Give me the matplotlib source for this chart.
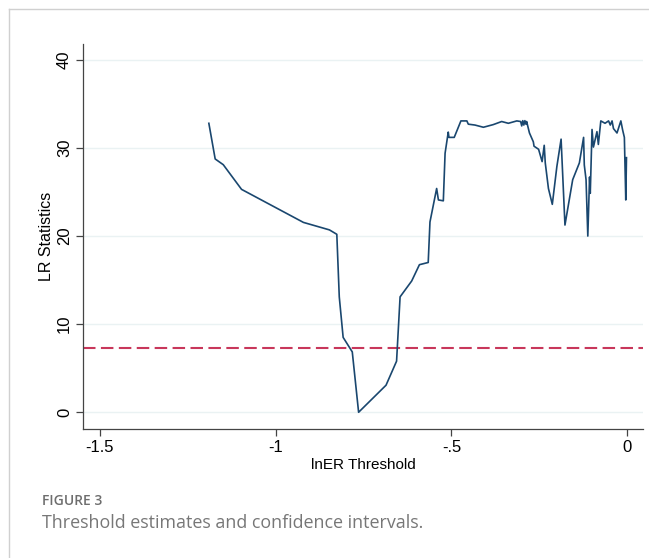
import matplotlib
matplotlib.use("Agg")
import matplotlib.pyplot as plt
from matplotlib.lines import Line2D

# threshold values (lnER) and LR statistics
thr = [-1.190, -1.172, -1.149, -1.097, -0.921, -0.847, -0.826, -0.819, -0.808,
       -0.782, -0.764, -0.686, -0.656, -0.646, -0.613, -0.591, -0.566, -0.561,
       -0.542, -0.537, -0.523, -0.518, -0.509, -0.507, -0.492, -0.473, -0.456,
       -0.452, -0.433, -0.409, -0.381, -0.357, -0.338, -0.314, -0.303, -0.300,
       -0.297, -0.294, -0.291, -0.288, -0.286, -0.278, -0.267, -0.265, -0.252,
       -0.242, -0.236, -0.233, -0.224, -0.213, -0.200, -0.188, -0.177, -0.155,
       -0.136, -0.124, -0.122, -0.117, -0.112, -0.107, -0.105, -0.100, -0.096,
       -0.086, -0.082, -0.075, -0.063, -0.053, -0.048, -0.043, -0.039, -0.029,
       -0.018, -0.013, -0.008, -0.004, -0.002]
lr = [32.8, 28.75, 28.1, 25.3, 21.55, 20.7, 20.2, 13.1, 8.5,
      6.85, 0.0, 3.07, 5.8, 13.1, 14.9, 16.75, 17.0, 21.6,
      25.4, 24.1, 24.0, 29.4, 31.8, 31.2, 31.2, 33.07, 33.07,
      32.7, 32.6, 32.35, 32.65, 33.0, 32.8, 33.07, 33.0, 32.5,
      33.1, 32.6, 33.1, 32.7, 33.0, 31.7, 30.7, 30.2, 29.85,
      28.45, 30.3, 28.3, 25.4, 23.6, 27.9, 31.0, 21.25, 26.4,
      28.3, 31.2, 28.07, 26.4, 20.0, 26.7, 24.85, 32.1, 30.1,
      31.85, 30.4, 33.07, 32.8, 33.07, 32.6, 33.07, 32.2, 31.7,
      33.07, 32.05, 31.2, 24.1, 28.9]
crit = 7.35  # 95% critical value

xticks = [-1.5, -1, -0.5, 0]
xtick_labels = ["-1.5", "-1", "-.5", "0"]
yticks = [0, 10, 20, 30, 40]

fig = plt.figure(figsize=(6.49, 5.58), dpi=100)
ax = fig.add_axes([83 / 649, 1 - 429 / 558, (643 - 83) / 649, (429 - 44) / 558])

ax.set_xlim(-1.548, 0.045)
ax.set_ylim(-1.9, 41.8)

for t in yticks:
    ax.axhline(t, color="#eaf2f3", lw=1.0, zorder=0)

ax.axhline(crit, color="#c8375b", lw=1.5, ls=(0, (6, 2.6)), zorder=1)
ax.plot(thr, lr, color="#1a476f", lw=1.2, zorder=2)

for s in ["top", "right"]:
    ax.spines[s].set_visible(False)
for s in ["left", "bottom"]:
    ax.spines[s].set_color("#444444")
    ax.spines[s].set_linewidth(0.9)

ax.set_xticks(xticks)
ax.set_xticklabels(xtick_labels, fontsize=12, family="Liberation Sans")
ax.set_yticks(yticks)
ax.set_yticklabels([str(t) for t in yticks], fontsize=12, family="Liberation Sans",
                   rotation=90, va="center")
ax.tick_params(axis="both", length=5, width=0.9, color="#444444", pad=3)

ax.set_xlabel("lnER Threshold", fontsize=11, family="Liberation Sans", labelpad=2)
ax.set_ylabel("LR Statistics", fontsize=11.5, family="Liberation Sans", labelpad=2)

# frame of the figure panel
fig.add_artist(Line2D([9 / 649, 9 / 649], [0, 1 - 9 / 558], transform=fig.transFigure,
                      color="#d0d0d0", lw=1.0))
fig.add_artist(Line2D([9 / 649, 1], [1 - 9 / 558, 1 - 9 / 558], transform=fig.transFigure,
                      color="#d0d0d0", lw=1.0))

fig.text(42 / 649, 1 - 505 / 558, "FIGURE 3", fontsize=10, family="Open Sans",
         fontweight="semibold", color="#6e6e6e", va="baseline")
fig.text(42 / 649, 1 - 528 / 558, "Threshold estimates and confidence intervals.",
         fontsize=12.9, family="Open Sans", color="#777777", va="baseline")

fig.savefig("out.png", dpi=100, facecolor="white")
